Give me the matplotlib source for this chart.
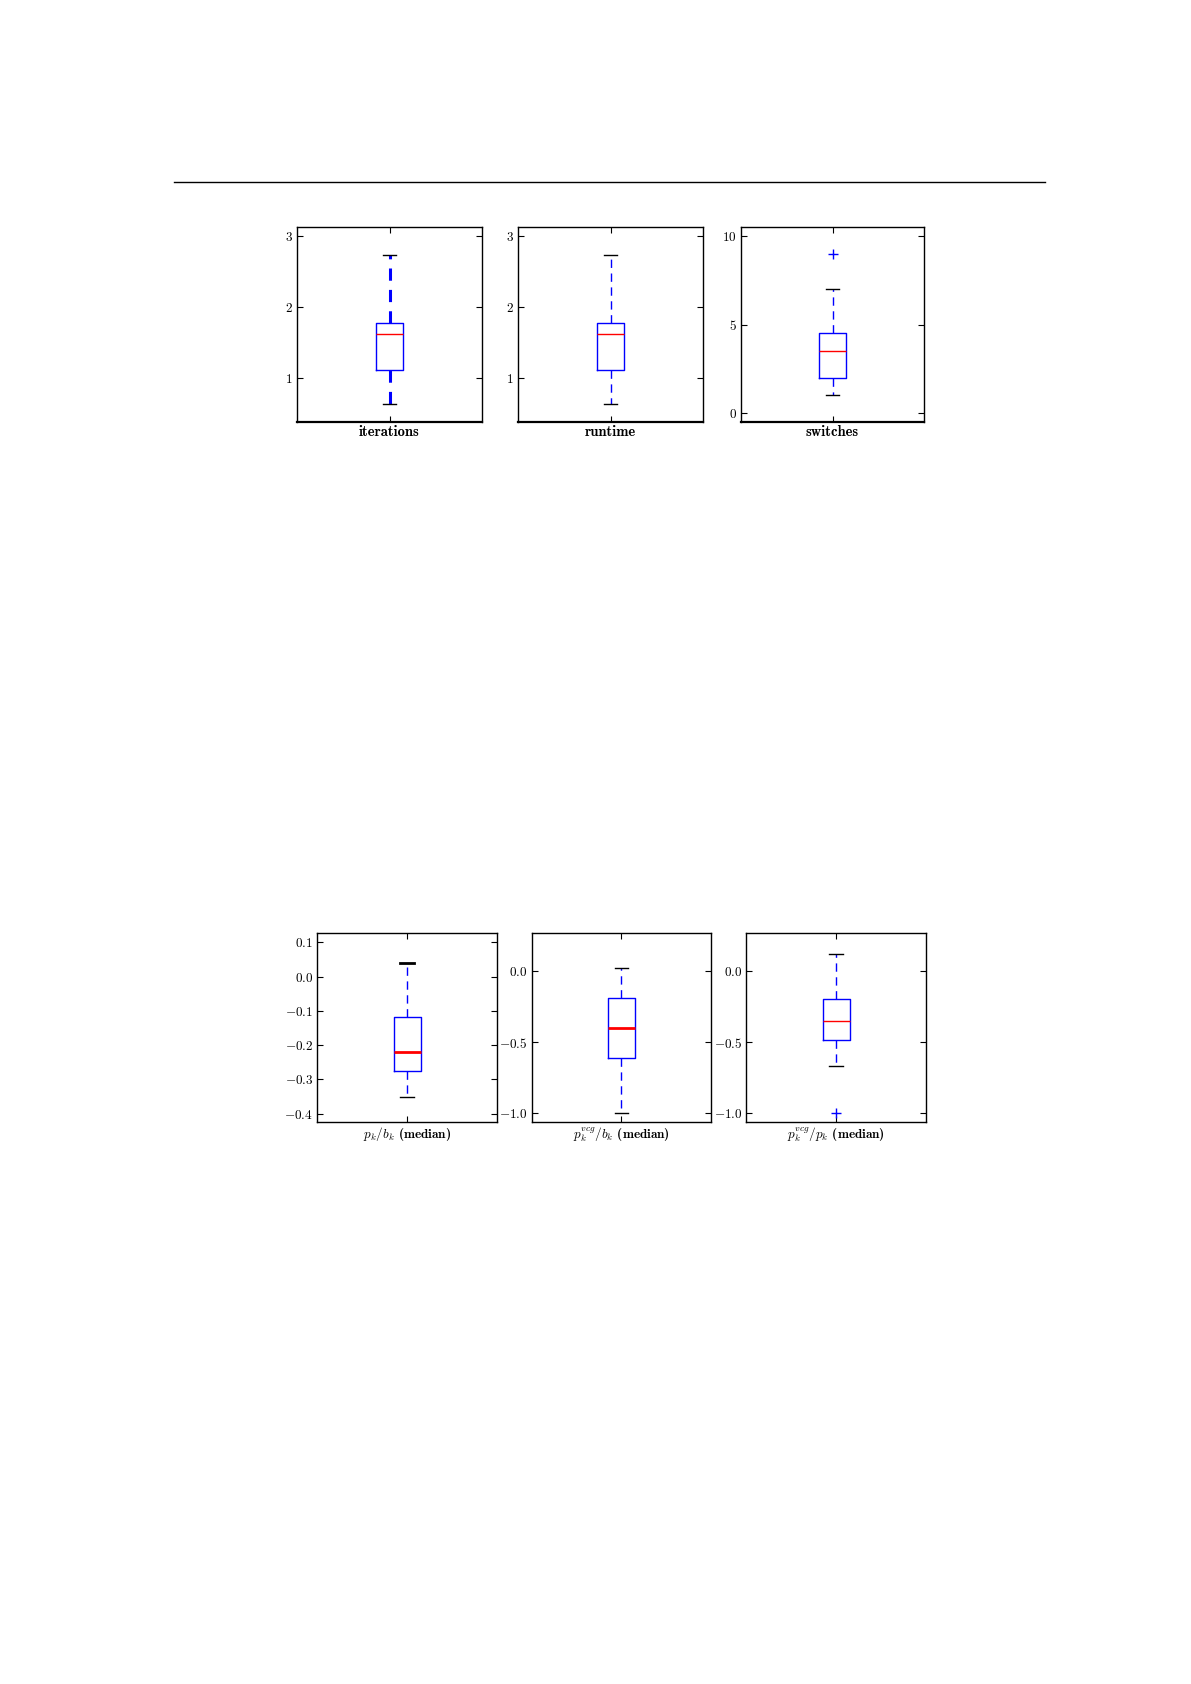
import matplotlib
matplotlib.use("Agg")
import matplotlib.pyplot as plt
from matplotlib.lines import Line2D

plt.rcParams['font.family'] = 'serif'
plt.rcParams['font.serif'] = ['cmr10']
plt.rcParams['mathtext.fontset'] = 'cm'
plt.rcParams['axes.formatter.use_mathtext'] = True
plt.rcParams['axes.unicode_minus'] = True

# ---- data ----
top_labels = ['iterations', 'runtime', 'switches']
top_q1 = [1.11, 1.11, 2.0]
top_med = [1.63, 1.63, 3.5]
top_q3 = [1.775, 1.775, 4.5]
top_whislo = [0.645, 0.645, 1.0]
top_whishi = [2.73, 2.73, 7.0]
top_fliers = [[], [], [9.0]]
top_ylims = [(0.385, 3.13), (0.385, 3.13), (-0.5, 10.5)]
top_yticks = [[1, 2, 3], [1, 2, 3], [0, 5, 10]]

bot_labels = [r'$p_k/b_k$ (median)', r'$p_k^{vcg}/b_k$ (median)',
              r'$p_k^{vcg}/p_k$ (median)']
bot_q1 = [-0.274, -0.614, -0.486]
bot_med = [-0.219, -0.401, -0.353]
bot_q3 = [-0.117, -0.19, -0.20]
bot_whislo = [-0.35, -1.0, -0.67]
bot_whishi = [0.039, 0.019, 0.122]
bot_fliers = [[], [], [-1.0]]
bot_ylims = [(-0.424, 0.127), (-1.061, 0.267), (-1.061, 0.267)]
bot_yticks = [[-0.4, -0.3, -0.2, -0.1, 0.0, 0.1], [-1.0, -0.5, 0.0], [-1.0, -0.5, 0.0]]

# styles per panel
top_whisk_lw = [2.2, 1.0, 1.0]
top_upcap_lw = [1.0, 1.0, 1.0]
bot_med_lw = [2.0, 2.0, 1.0]
bot_upcap_lw = [2.0, 1.0, 1.0]

W, H = 1191, 1684
fig = plt.figure(figsize=(W / 100, H / 100), dpi=100)

# horizontal rule
fig.add_artist(Line2D([174 / W, 1045 / W], [1 - 181.5 / H, 1 - 181.5 / H],
                      color='black', lw=1.0, transform=fig.transFigure))


def panel(rect, q1, med, q3, lo, hi, fl, label, ylim, yticks,
          whisk_lw=1.0, med_lw=1.0, upcap_lw=1.0, thick_bottom=False,
          fs=9.5, lfs=9.5):
    ax = fig.add_axes(rect)
    stats = [dict(q1=q1, med=med, q3=q3, whislo=lo, whishi=hi, fliers=fl)]
    dash = (0, (4, 3)) if whisk_lw > 1.5 else (0, (6, 4))
    res = ax.bxp(stats, positions=[1], widths=0.15, manage_ticks=False,
                 boxprops=dict(color='blue', lw=1.0),
                 medianprops=dict(color='red', lw=med_lw),
                 whiskerprops=dict(color='blue', lw=whisk_lw, linestyle=dash),
                 capprops=dict(color='black', lw=1.0),
                 flierprops=dict(marker='+', markeredgecolor='blue', markersize=7,
                                 linestyle='none', markeredgewidth=1.0))
    res['caps'][1].set_linewidth(upcap_lw)
    ax.set_xlim(0.5, 1.5)
    ax.set_ylim(*ylim)
    ax.set_yticks(yticks)
    ax.set_xticks([1])
    ax.set_xticklabels([label], fontfamily='cmb10', fontsize=lfs)
    ax.tick_params(direction='in', top=True, right=True, length=4, width=0.8,
                   labelsize=fs, pad=3)
    ax.tick_params(axis='x', pad=2, labelsize=lfs)
    for s in ax.spines.values():
        s.set_linewidth(1.0)
    if thick_bottom:
        ax.spines['bottom'].set_linewidth(1.6)
    return ax


top_lefts = [297, 518, 741]
top_widths = [185, 185, 183]
for i in range(3):
    rect = [top_lefts[i] / W, 1 - 422 / H, top_widths[i] / W, 195 / H]
    panel(rect, top_q1[i], top_med[i], top_q3[i], top_whislo[i], top_whishi[i],
          top_fliers[i], top_labels[i], top_ylims[i], top_yticks[i],
          whisk_lw=top_whisk_lw[i], upcap_lw=top_upcap_lw[i], thick_bottom=True,
          lfs=10.5)

bot_lefts = [317.3, 531.7, 746.3]
for i in range(3):
    rect = [bot_lefts[i] / W, 1 - 1122 / H, 179.5 / W, 189 / H]
    panel(rect, bot_q1[i], bot_med[i], bot_q3[i], bot_whislo[i], bot_whishi[i],
          bot_fliers[i], bot_labels[i], bot_ylims[i], bot_yticks[i],
          med_lw=bot_med_lw[i], upcap_lw=bot_upcap_lw[i], fs=9.5, lfs=9.5)

fig.savefig('out.png', dpi=100)
